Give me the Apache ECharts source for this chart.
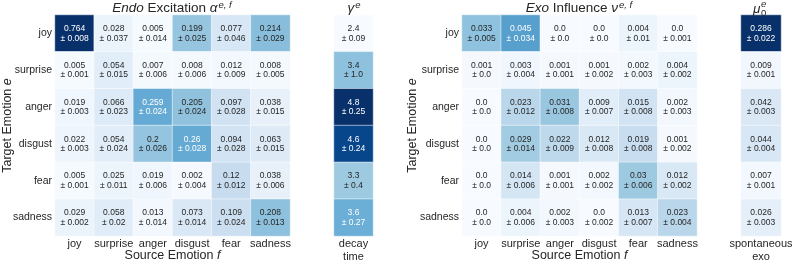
<!DOCTYPE html>
<html><head><meta charset="utf-8">
<script src="https://cdn.jsdelivr.net/npm/echarts@6/dist/echarts.min.js"></script>
<style>html,body{margin:0;padding:0;background:#fff}#c{width:793px;height:263px}</style>
</head><body><div id="c"></div>
<script>
const emotions = ['joy','surprise','anger','disgust','fear','sadness'];
const endoVal = [
 [0.764,0.028,0.005,0.199,0.077,0.214],
 [0.005,0.054,0.007,0.008,0.012,0.008],
 [0.019,0.066,0.259,0.205,0.097,0.038],
 [0.022,0.054,0.2,0.26,0.094,0.063],
 [0.005,0.025,0.019,0.002,0.12,0.038],
 [0.029,0.058,0.013,0.073,0.109,0.208]];
const endoErr = [
 [0.008,0.037,0.014,0.025,0.046,0.029],
 [0.001,0.015,0.006,0.006,0.009,0.005],
 [0.003,0.023,0.024,0.024,0.028,0.015],
 [0.003,0.024,0.026,0.028,0.028,0.015],
 [0.001,0.011,0.006,0.004,0.012,0.006],
 [0.002,0.02,0.014,0.014,0.024,0.013]];
const gammaVal = [2.4,3.4,4.8,4.6,3.3,3.6];
const gammaErr = [0.09,1.0,0.25,0.24,0.4,0.27];
const exoVal = [
 [0.033,0.045,0.0,0.0,0.004,0.0],
 [0.001,0.003,0.001,0.001,0.002,0.004],
 [0.0,0.023,0.031,0.009,0.015,0.002],
 [0.0,0.029,0.022,0.012,0.019,0.001],
 [0.0,0.014,0.001,0.002,0.03,0.012],
 [0.0,0.004,0.002,0.0,0.013,0.023]];
const exoErr = [
 [0.005,0.034,0.0,0.0,0.01,0.001],
 [0.0,0.004,0.001,0.002,0.003,0.002],
 [0.0,0.012,0.008,0.007,0.008,0.003],
 [0.0,0.014,0.009,0.008,0.008,0.002],
 [0.0,0.006,0.001,0.002,0.006,0.002],
 [0.0,0.006,0.003,0.002,0.007,0.004]];
const muVal = [0.286,0.009,0.042,0.044,0.007,0.026];
const muErr = [0.022,0.001,0.003,0.004,0.001,0.003];

const blues = ['#f7fbff','#deebf7','#c6dbef','#9ecae1','#6baed6','#4292c6','#2171b5','#08519c','#08306b'];
const ranges = [[0,0.5],[2.4,4.8],[0,0.08],[0,0.286]];
const fmt = v => Number.isInteger(v) ? v.toFixed(1) : String(v);
const font = '"Liberation Sans", Arial, sans-serif';

function matData(vals, errs, k){
  const out = [];
  const [lo,hi] = ranges[k];
  vals.forEach((row,r)=>row.forEach((v,c)=>{
    const t = (v-lo)/(hi-lo);
    out.push({value:[c,r,v,errs[r][c]], label:{color: t>0.48?'#ffffff':'#262626'}});
  }));
  return out;
}
function colData(vals, errs, k){
  const [lo,hi] = ranges[k];
  return vals.map((v,r)=>{
    const t=(v-lo)/(hi-lo);
    return {value:[0,r,v,errs[r]], label:{color: t>0.48?'#ffffff':'#262626'}};
  });
}

const grids = [
 {left:55, top:15, width:235, height:221},
 {left:334, top:15, width:39, height:221},
 {left:462, top:15, width:235, height:221},
 {left:741, top:15, width:40, height:221}
].map(g=>({...g, containLabel:false, outerBoundsMode:'none'}));
const tickStyle = {fontSize:10.5, color:'#262626', fontFamily:font};
const nameStyle = {fontSize:12.5, color:'#262626', fontFamily:font, rich:{i:{fontStyle:'italic',fontSize:12.5,color:'#262626',fontFamily:font}}};
function xAx(gi, cats, name){
  return {type:'category', gridIndex:gi, data:cats, axisLine:{show:false}, axisTick:{show:false},
    axisLabel:{...tickStyle, fontSize:11, margin:2, interval:0, lineHeight:12.5}, splitLine:{show:false},
    name:name, nameLocation:'middle', nameGap:13, nameMoveOverlap:false, nameTextStyle:nameStyle};
}
function yAx(gi, show, name, gap){
  return {type:'category', gridIndex:gi, data:emotions, inverse:true, axisLine:{show:false}, axisTick:{show:false},
    axisLabel:{show:show, ...tickStyle, margin:3}, splitLine:{show:false},
    name:name, nameLocation:'middle', nameRotate:90, nameGap:gap, nameMoveOverlap:false, nameTextStyle:nameStyle};
}
const cellLabel = {show:true, fontSize:8.5, lineHeight:9.5, fontFamily:font,
  formatter: p => fmt(p.value[2]) + '\n± ' + fmt(p.value[3])};
function hm(k, data){
  return {type:'heatmap', xAxisIndex:k, yAxisIndex:k, data:data, label:cellLabel,
    itemStyle:{borderColor:'#ffffff', borderWidth:0.5}, emphasis:{disabled:true}, progressive:0, animation:false};
}
const titleStyle = {fontSize:13.5, color:'#262626', fontFamily:font, fontWeight:'normal',
  rich:{i:{fontStyle:'italic',fontSize:13.5,color:'#262626',fontFamily:font},
        sup:{fontStyle:'italic',fontSize:9.5,color:'#262626',fontFamily:font,padding:[0,0,7,1]}}};
const smallStyle = {fontSize:9.5, color:'#262626', fontFamily:font, fontWeight:'normal'};

const chart = echarts.init(document.getElementById('c'), null, {renderer:'canvas'});
chart.setOption({
  animation:false,
  backgroundColor:'#ffffff',
  title:[
    {text:'{i|Endo} Excitation {i|α}{sup|e, f}', left:172, textAlign:'center', top:0, padding:0, textStyle:titleStyle},
    {text:'{i|γ}{sup|e}', left:354, textAlign:'center', top:0, padding:0, textStyle:titleStyle},
    {text:'{i|Exo} Influence {i|ν}{sup|e, f}', left:579, textAlign:'center', top:0, padding:0, textStyle:titleStyle},
    {text:'μ', left:753, top:2, padding:0, textStyle:{...titleStyle, fontStyle:'italic'}},
    {text:'0', left:761, top:8, padding:0, textStyle:smallStyle},
    {text:'e', left:761, top:-1, padding:0, textStyle:{...smallStyle, fontStyle:'italic'}}
  ],
  grid:grids,
  xAxis:[xAx(0, emotions, 'Source Emotion {i|f}'), xAx(1, ['decay\ntime'], ''), xAx(2, emotions, 'Source Emotion {i|f}'), xAx(3, ['spontaneous\nexo'], '')],
  yAxis:[yAx(0, true, 'Target Emotion {i|e}', 41), yAx(1, false, '', 0), yAx(2, true, 'Target Emotion {i|e}', 43), yAx(3, false, '', 0)],
  visualMap: ranges.map((r,k)=>({type:'continuous', show:false, seriesIndex:k, dimension:2, min:r[0], max:r[1], inRange:{color:blues}})),
  series:[hm(0, matData(endoVal, endoErr, 0)), hm(1, colData(gammaVal, gammaErr, 1)), hm(2, matData(exoVal, exoErr, 2)), hm(3, colData(muVal, muErr, 3))]
});
</script></body></html>
